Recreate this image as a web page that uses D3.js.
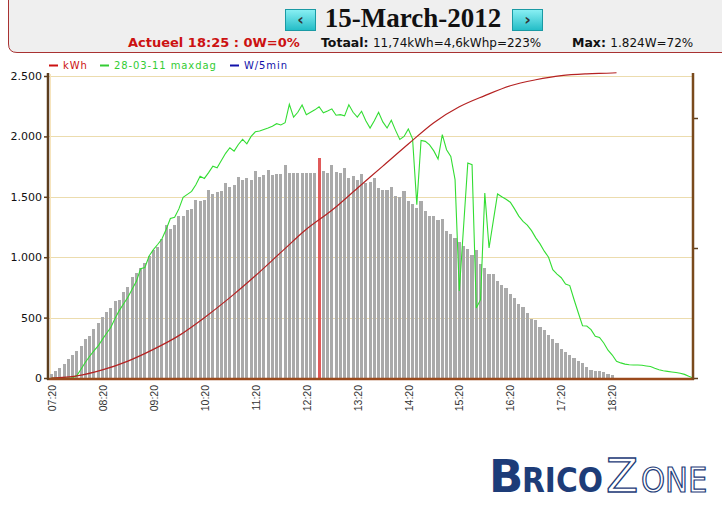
<!DOCTYPE html>
<html>
<head>
<meta charset="utf-8">
<script src="https://d3js.org/d3.v7.min.js"></script>
<style>
  body { margin: 0; background: #ffffff; }
  svg { display: block; }
  text { font-family: "DejaVu Sans", Verdana, sans-serif; }
</style>
</head>
<body>
<svg id="canvas" width="722" height="512"></svg>
<script>
  // solar yield for one day: W per 5 minutes, the best day as reference, cumulative kWh

  const dayTitle = "15-March-2012";
  const firstSlot = "07:20";
  const slotMinutes = 5;

  // W/5min, 07:20 .. 18:25
  const barWatts = [
    30, 58, 85, 118, 155, 190, 226, 262, 320, 348,
    407, 453, 503, 548, 576, 635, 649, 708, 757, 837,
    873, 911, 953, 1013, 1060, 1088, 1149, 1267, 1237, 1265,
    1345, 1342, 1387, 1403, 1470, 1464, 1473, 1558, 1525, 1540,
    1550, 1615, 1585, 1596, 1667, 1635, 1652, 1641, 1712, 1668,
    1679, 1723, 1679, 1690, 1690, 1762, 1701, 1701, 1701, 1701,
    1701, 1701, 1701, 1824, 1712, 1694, 1762, 1704, 1693, 1740,
    1656, 1670, 1642, 1690, 1612, 1622, 1656, 1570, 1560, 1560,
    1583, 1510, 1500, 1546, 1463, 1443, 1408, 1463, 1380, 1345,
    1345, 1310, 1320, 1215, 1188, 1160, 1127, 1091, 1069, 1022,
    1058, 947, 911, 865, 865, 806, 773, 746, 699, 663,
    613, 588, 541, 492, 483, 423, 398, 354, 326, 287,
    240, 213, 193, 166, 138, 121, 94, 66, 61, 61,
    50, 36, 28, 0
  ];

  // 28-03-11 maxdag, W per 5 minutes, 07:20 .. 19:55
  const maxdagWatts = [
    0, 0, 0, 0, 0, 0, 20, 75, 130, 180,
    225, 265, 320, 370, 420, 495, 560, 615, 668, 735,
    800, 905, 915, 1010, 1063, 1105, 1150, 1230, 1320, 1330,
    1400, 1495, 1520, 1545, 1600, 1670, 1652, 1700, 1754, 1740,
    1800, 1860, 1906, 1878, 1933, 1975, 1939, 2000, 2038, 2045,
    2058, 2070, 2085, 2105, 2095, 2113, 2265, 2160, 2200, 2260,
    2180, 2200, 2220, 2245, 2196, 2210, 2228, 2175, 2180, 2170,
    2262, 2200, 2160, 2208, 2130, 2069, 2130, 2200, 2120, 2069,
    2133, 2050, 1975, 2000, 2061, 1980, 1435, 1967, 1959, 1930,
    1880, 1813, 2014, 1890, 1835, 1642, 720, 1250, 1780, 1766,
    579, 648, 1531, 1076, 1300, 1523, 1500, 1480, 1455, 1400,
    1340, 1297, 1265, 1220, 1160, 1110, 1050, 1000, 897, 860,
    830, 778, 765, 650, 540, 433, 430, 400, 345, 335,
    290, 230, 190, 138, 125, 115, 110, 108, 107, 105,
    100, 95, 80, 69, 60, 55, 50, 45, 40, 30,
    14, 0
  ];

  // cumulative kWh (right axis)
  const kwhTimes = ["07:20", "07:50", "08:20", "08:50", "09:20", "09:50", "10:20", "10:50",
                    "11:20", "11:50", "12:20", "12:50", "13:20", "13:50", "14:20", "14:50",
                    "15:20", "15:50", "16:20", "16:50", "17:20", "17:50", "18:20", "18:25"];
  const kwhValues = [0, 0.08, 0.31, 0.65, 1.10, 1.63, 2.32, 3.09,
                     3.93, 4.83, 5.72, 6.45, 7.30, 8.15, 9.00, 9.82,
                     10.43, 10.86, 11.24, 11.47, 11.63, 11.70, 11.73, 11.74];

  const wattTicks = [0, 500, 1000, 1500, 2000, 2500];
  const kwhTicks = [0, 5, 10];
  const timeTicks = ["07:20", "08:20", "09:20", "10:20", "11:20", "12:20",
                     "13:20", "14:20", "15:20", "16:20", "17:20", "18:20"];
  const legendLabels = ["kWh", "28-03-11 maxdag", "W/5min"];
  const legendColors = ["#cc1111", "#33cc33", "#1111aa"];

  const svg = d3.select("svg");

  function toMinutes(s) {
    return +s.slice(0, 2) * 60 + +s.slice(3, 5);
  }
  const start = toMinutes(firstSlot);

  const nl = d3.formatLocale({ decimal: ",", thousands: ".", grouping: [3], currency: ["", ""] });
  const fmt = nl.format(",d");

  const x = d3.scaleLinear().domain([toMinutes("07:16"), toMinutes("19:55")]).range([48, 693]);
  const y = d3.scaleLinear().domain([0, 2500]).range([378, 76]);
  const yK = d3.scaleLinear().domain([0, 10]).range([378, 118]);

  // ---- header box
  svg.append("path")
      .attr("d", "M 8.5,-2 V 44 Q 8.5,52.5 17,52.5 H 724 V -2 Z")
      .attr("fill", "#efefef")
      .attr("stroke", "#a83232")
      .attr("stroke-width", 1);

  const grad = svg.append("defs").append("linearGradient")
      .attr("id", "btn").attr("x1", 0).attr("y1", 0).attr("x2", 0).attr("y2", 1);
  grad.append("stop").attr("offset", "0%").attr("stop-color", "#8af0f4");
  grad.append("stop").attr("offset", "100%").attr("stop-color", "#22bcc6");

  [{ x: 285, c: "\u2039" }, { x: 512, c: "\u203A" }].forEach(b => {
    svg.append("rect")
        .attr("x", b.x + 0.5).attr("y", 9.5).attr("width", 30).attr("height", 21)
        .attr("fill", "url(#btn)").attr("stroke", "#1a9aa4");
    svg.append("text")
        .attr("x", b.x + 15.5).attr("y", 25)
        .attr("text-anchor", "middle")
        .style("font-size", "16px").style("font-weight", "bold")
        .attr("fill", "#333")
        .text(b.c);
  });

  svg.append("text")
      .attr("x", 413).attr("y", 27)
      .attr("text-anchor", "middle")
      .style("font-family", "'Liberation Serif', Georgia, serif")
      .style("font-size", "27px").style("font-weight", "bold")
      .attr("fill", "#111")
      .text(dayTitle);

  svg.append("text")
      .attr("x", 128).attr("y", 47)
      .style("font-size", "13px").style("font-weight", "bold")
      .attr("fill", "#cc1111")
      .text("Actueel 18:25 : 0W=0%");

  const tot = svg.append("text").attr("x", 321).attr("y", 47).style("font-size", "12.5px").attr("fill", "#111");
  tot.append("tspan").style("font-weight", "bold").text("Totaal: ");
  tot.append("tspan").style("font-size", "12px").text("11,74kWh=4,6kWhp=223%");

  const mx = svg.append("text").attr("x", 572).attr("y", 47).style("font-size", "12.5px").attr("fill", "#111");
  mx.append("tspan").style("font-weight", "bold").text("Max: ");
  mx.append("tspan").style("font-size", "12px").text("1.824W=72%");

  // ---- legend
  const legendX = [49, 100, 230];
  legendLabels.forEach((label, i) => {
    svg.append("line")
        .attr("x1", legendX[i]).attr("x2", legendX[i] + 9)
        .attr("y1", 65.5).attr("y2", 65.5)
        .attr("stroke", legendColors[i]).attr("stroke-width", 2);
    svg.append("text")
        .attr("x", legendX[i] + 14).attr("y", 69)
        .style("font-size", "10px").style("letter-spacing", "0.9px")
        .attr("fill", legendColors[i])
        .text(label);
  });

  // ---- grid
  svg.append("g").selectAll("line")
      .data(wattTicks.filter(d => d > 0))
      .join("line")
      .attr("x1", 48).attr("x2", 693)
      .attr("y1", d => Math.round(y(d)) + 0.5).attr("y2", d => Math.round(y(d)) + 0.5)
      .attr("stroke", "#ecdcae");
  svg.append("line")
      .attr("x1", 50.5).attr("x2", 50.5).attr("y1", 74).attr("y2", 378)
      .attr("stroke", "#f6e4bd");

  // ---- bars
  const step = x(start + slotMinutes) - x(start);
  const barW = step - 1.1;
  const peak = d3.maxIndex(barWatts);
  svg.append("g")
      .attr("shape-rendering", "crispEdges")
      .selectAll("rect")
      .data(barWatts)
      .join("rect")
      .attr("x", (d, i) => x(start + i * slotMinutes) - barW / 2)
      .attr("width", barW)
      .attr("y", d => y(d))
      .attr("height", d => y(0) - y(d))
      .attr("fill", (d, i) => i === peak ? "#e05a5a" : "#aaaaaa");

  // ---- lines
  const greenLine = d3.line()
      .x((d, i) => x(start + i * slotMinutes))
      .y(d => y(d));
  svg.append("path")
      .datum(maxdagWatts)
      .attr("d", greenLine)
      .attr("fill", "none")
      .attr("stroke", "#33dd33")
      .attr("stroke-width", 1.1);

  const redLine = d3.line()
      .x((d, i) => x(toMinutes(kwhTimes[i])))
      .y(d => yK(d))
      .curve(d3.curveMonotoneX);
  svg.append("path")
      .datum(kwhValues)
      .attr("d", redLine)
      .attr("fill", "none")
      .attr("stroke", "#b52222")
      .attr("stroke-width", 1.2);

  // ---- axes
  const axisColor = "#5c3d1e";

  const left = svg.append("g")
      .attr("transform", "translate(48,0)")
      .call(d3.axisLeft(y).tickValues(wattTicks).tickFormat(fmt).tickSize(4).tickPadding(2));
  left.select(".domain").remove();
  left.selectAll(".tick line").attr("stroke", axisColor).attr("stroke-width", 1.5);
  left.selectAll(".tick text")
      .attr("fill", "#111")
      .style("font-family", "'DejaVu Sans', Verdana, sans-serif")
      .style("font-size", "11px");

  const right = svg.append("g")
      .attr("transform", "translate(693,0)")
      .call(d3.axisRight(yK).tickValues(kwhTicks).tickFormat("").tickSize(5));
  right.select(".domain").remove();
  right.selectAll(".tick line").attr("stroke", axisColor).attr("stroke-width", 1.5);

  const bottom = svg.append("g")
      .attr("transform", "translate(0,379)")
      .call(d3.axisBottom(x).tickValues(timeTicks.map(toMinutes))
            .tickFormat((d, i) => timeTicks[i]).tickSize(0));
  bottom.select(".domain").remove();
  bottom.selectAll(".tick text")
      .attr("transform", "rotate(-90)")
      .attr("x", -6).attr("y", 0).attr("dy", "0.35em")
      .attr("text-anchor", "end")
      .attr("fill", "#333")
      .style("font-family", "'Liberation Sans', Arial, sans-serif")
      .style("font-size", "10.5px");

  svg.append("line")
      .attr("x1", 47).attr("x2", 694).attr("y1", 379).attr("y2", 379)
      .attr("stroke", "#9a4a1c").attr("stroke-width", 2.5);
  svg.append("line")
      .attr("x1", 48).attr("x2", 48).attr("y1", 73).attr("y2", 380)
      .attr("stroke", axisColor).attr("stroke-width", 2.5);
  svg.append("line")
      .attr("x1", 693).attr("x2", 693).attr("y1", 73).attr("y2", 380)
      .attr("stroke", "#7a4a1c").attr("stroke-width", 2.5);

  // ---- logo
  const navy = "#1d3c78";
  const condensed = "'DejaVu Sans Condensed', 'DejaVu Sans', sans-serif";
  const logo = svg.append("g");
  logo.append("text").attr("x", 489).attr("y", 492)
      .style("font-size", "45px").style("font-weight", "bold").attr("fill", navy).text("B");
  logo.append("text").attr("x", 522).attr("y", 492)
      .style("font-family", condensed)
      .style("font-size", "33px").style("font-weight", "bold").attr("fill", navy).text("RICO");
  logo.append("text").attr("x", 606).attr("y", 492)
      .style("font-size", "47px").attr("fill", "#fff").attr("stroke", navy).attr("stroke-width", 1.3)
      .text("Z");
  logo.append("text").attr("x", 641).attr("y", 492)
      .style("font-family", condensed)
      .style("font-size", "34px").attr("fill", "#fff").attr("stroke", navy).attr("stroke-width", 1.2)
      .text("ONE");
</script>
</body>
</html>
